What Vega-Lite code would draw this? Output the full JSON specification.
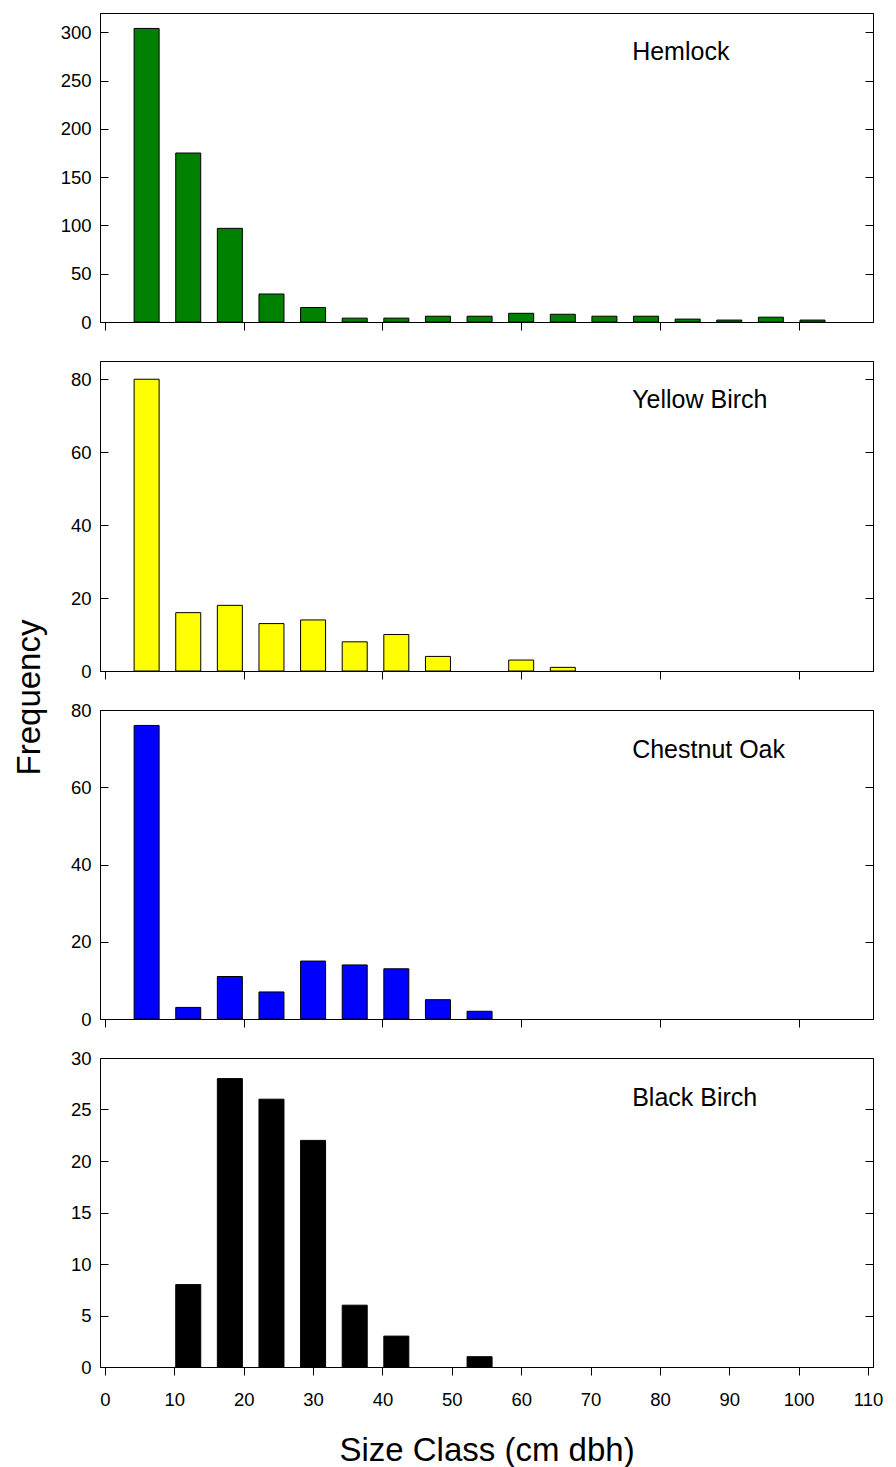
{
  "$schema": "https://vega.github.io/schema/vega-lite/v6.json",
  "padding": {"left": 12, "top": 12, "right": 5, "bottom": 2},
  "background": "white",
  "config": {
    "font": "Liberation Sans",
    "view": {"stroke": "black", "strokeWidth": 1},
    "axis": {
      "grid": false,
      "domainColor": "black",
      "tickColor": "black",
      "labelColor": "black",
      "titleColor": "black",
      "labelFont": "Liberation Sans",
      "titleFont": "Liberation Sans",
      "labelFontSize": 18.5,
      "titleFontSize": 33,
      "titleFontWeight": "normal",
      "labelFlush": false,
      "labelOverlap": false
    }
  },
  "datasets": {
    "hemlock": [
      {"size": 6, "freq": 304}, {"size": 12, "freq": 175}, {"size": 18, "freq": 97},
      {"size": 24, "freq": 29}, {"size": 30, "freq": 15}, {"size": 36, "freq": 4},
      {"size": 42, "freq": 4}, {"size": 48, "freq": 6}, {"size": 54, "freq": 6},
      {"size": 60, "freq": 9}, {"size": 66, "freq": 8}, {"size": 72, "freq": 6},
      {"size": 78, "freq": 6}, {"size": 84, "freq": 3}, {"size": 90, "freq": 2},
      {"size": 96, "freq": 5}, {"size": 102, "freq": 2}
    ],
    "yellow": [
      {"size": 6, "freq": 80}, {"size": 12, "freq": 16}, {"size": 18, "freq": 18},
      {"size": 24, "freq": 13}, {"size": 30, "freq": 14}, {"size": 36, "freq": 8},
      {"size": 42, "freq": 10}, {"size": 48, "freq": 4}, {"size": 60, "freq": 3},
      {"size": 66, "freq": 1}
    ],
    "chestnut": [
      {"size": 6, "freq": 76}, {"size": 12, "freq": 3}, {"size": 18, "freq": 11},
      {"size": 24, "freq": 7}, {"size": 30, "freq": 15}, {"size": 36, "freq": 14},
      {"size": 42, "freq": 13}, {"size": 48, "freq": 5}, {"size": 54, "freq": 2}
    ],
    "black": [
      {"size": 12, "freq": 8}, {"size": 18, "freq": 28}, {"size": 24, "freq": 26},
      {"size": 30, "freq": 22}, {"size": 36, "freq": 6}, {"size": 42, "freq": 3},
      {"size": 54, "freq": 1}
    ]
  },
  "spacing": 39,
  "bounds": "flush",
  "vconcat": [
    {
      "width": 773, "height": 309,
      "resolve": {"axis": {"y": "independent"}},
      "layer": [
        {
          "data": {"name": "hemlock"},
          "mark": {"type": "bar", "size": 25, "color": "#008000", "stroke": "black", "strokeWidth": 1},
          "encoding": {
            "x": {"field": "size", "type": "quantitative", "scale": {"domain": [0, 110], "nice": false},
                  "axis": {"values": [0, 20, 40, 60, 80, 100], "labels": false, "tickSize": 8, "title": null}},
            "y": {"field": "freq", "type": "quantitative", "scale": {"domain": [0, 320], "nice": false},
                  "axis": {"values": [0, 50, 100, 150, 200, 250, 300], "tickSize": -8, "labelPadding": 17, "title": null}}
          }
        },
        {
          "data": {"values": [{"species": "Hemlock"}]},
          "mark": {"type": "text", "align": "left", "baseline": "alphabetic", "fontSize": 25, "color": "black"},
          "encoding": {
            "text": {"field": "species"},
            "x": {"datum": 76, "type": "quantitative"},
            "y": {"datum": 271, "type": "quantitative",
                  "axis": {"orient": "right", "values": [0, 50, 100, 150, 200, 250, 300], "labels": false, "tickSize": -8, "title": null}}
          }
        }
      ]
    },
    {
      "width": 773, "height": 310,
      "resolve": {"axis": {"y": "independent"}},
      "layer": [
        {
          "data": {"name": "yellow"},
          "mark": {"type": "bar", "size": 25, "color": "#ffff00", "stroke": "black", "strokeWidth": 1},
          "encoding": {
            "x": {"field": "size", "type": "quantitative", "scale": {"domain": [0, 110], "nice": false},
                  "axis": {"values": [0, 20, 40, 60, 80, 100], "labels": false, "tickSize": 8, "title": null}},
            "y": {"field": "freq", "type": "quantitative", "scale": {"domain": [0, 85], "nice": false},
                  "axis": {"values": [0, 20, 40, 60, 80], "tickSize": -8, "labelPadding": 17, "title": "Frequency",
                           "titleX": -61, "titleY": 336, "titleAngle": -90, "titleAlign": "center", "titleBaseline": "alphabetic"}}
          }
        },
        {
          "data": {"values": [{"species": "Yellow Birch"}]},
          "mark": {"type": "text", "align": "left", "baseline": "alphabetic", "fontSize": 25, "color": "black"},
          "encoding": {
            "text": {"field": "species"},
            "x": {"datum": 76, "type": "quantitative"},
            "y": {"datum": 72, "type": "quantitative",
                  "axis": {"orient": "right", "values": [0, 20, 40, 60, 80], "labels": false, "tickSize": -8, "title": null}}
          }
        }
      ]
    },
    {
      "width": 773, "height": 309,
      "resolve": {"axis": {"y": "independent"}},
      "layer": [
        {
          "data": {"name": "chestnut"},
          "mark": {"type": "bar", "size": 25, "color": "#0000ff", "stroke": "black", "strokeWidth": 1},
          "encoding": {
            "x": {"field": "size", "type": "quantitative", "scale": {"domain": [0, 110], "nice": false},
                  "axis": {"values": [0, 20, 40, 60, 80, 100], "labels": false, "tickSize": 8, "title": null}},
            "y": {"field": "freq", "type": "quantitative", "scale": {"domain": [0, 80], "nice": false},
                  "axis": {"values": [0, 20, 40, 60, 80], "tickSize": -8, "labelPadding": 17, "title": null}}
          }
        },
        {
          "data": {"values": [{"species": "Chestnut Oak"}]},
          "mark": {"type": "text", "align": "left", "baseline": "alphabetic", "fontSize": 25, "color": "black"},
          "encoding": {
            "text": {"field": "species"},
            "x": {"datum": 76, "type": "quantitative"},
            "y": {"datum": 67.5, "type": "quantitative",
                  "axis": {"orient": "right", "values": [0, 20, 40, 60, 80], "labels": false, "tickSize": -8, "title": null}}
          }
        }
      ]
    },
    {
      "width": 773, "height": 309,
      "resolve": {"axis": {"y": "independent"}},
      "layer": [
        {
          "data": {"name": "black"},
          "mark": {"type": "bar", "size": 25, "color": "#000000", "stroke": "black", "strokeWidth": 1},
          "encoding": {
            "x": {"field": "size", "type": "quantitative", "scale": {"domain": [0, 110], "nice": false},
                  "axis": {"values": [0, 10, 20, 30, 40, 50, 60, 70, 80, 90, 100, 110], "tickSize": 8, "labelPadding": 15,
                           "title": "Size Class (cm dbh)", "titleY": 93, "titleBaseline": "alphabetic"}},
            "y": {"field": "freq", "type": "quantitative", "scale": {"domain": [0, 30], "nice": false},
                  "axis": {"values": [0, 5, 10, 15, 20, 25, 30], "tickSize": -8, "labelPadding": 17, "title": null}}
          }
        },
        {
          "data": {"values": [{"species": "Black Birch"}]},
          "mark": {"type": "text", "align": "left", "baseline": "alphabetic", "fontSize": 25, "color": "black"},
          "encoding": {
            "text": {"field": "species"},
            "x": {"datum": 76, "type": "quantitative"},
            "y": {"datum": 25.3, "type": "quantitative",
                  "axis": {"orient": "right", "values": [0, 5, 10, 15, 20, 25, 30], "labels": false, "tickSize": -8, "title": null}}
          }
        }
      ]
    }
  ]
}
